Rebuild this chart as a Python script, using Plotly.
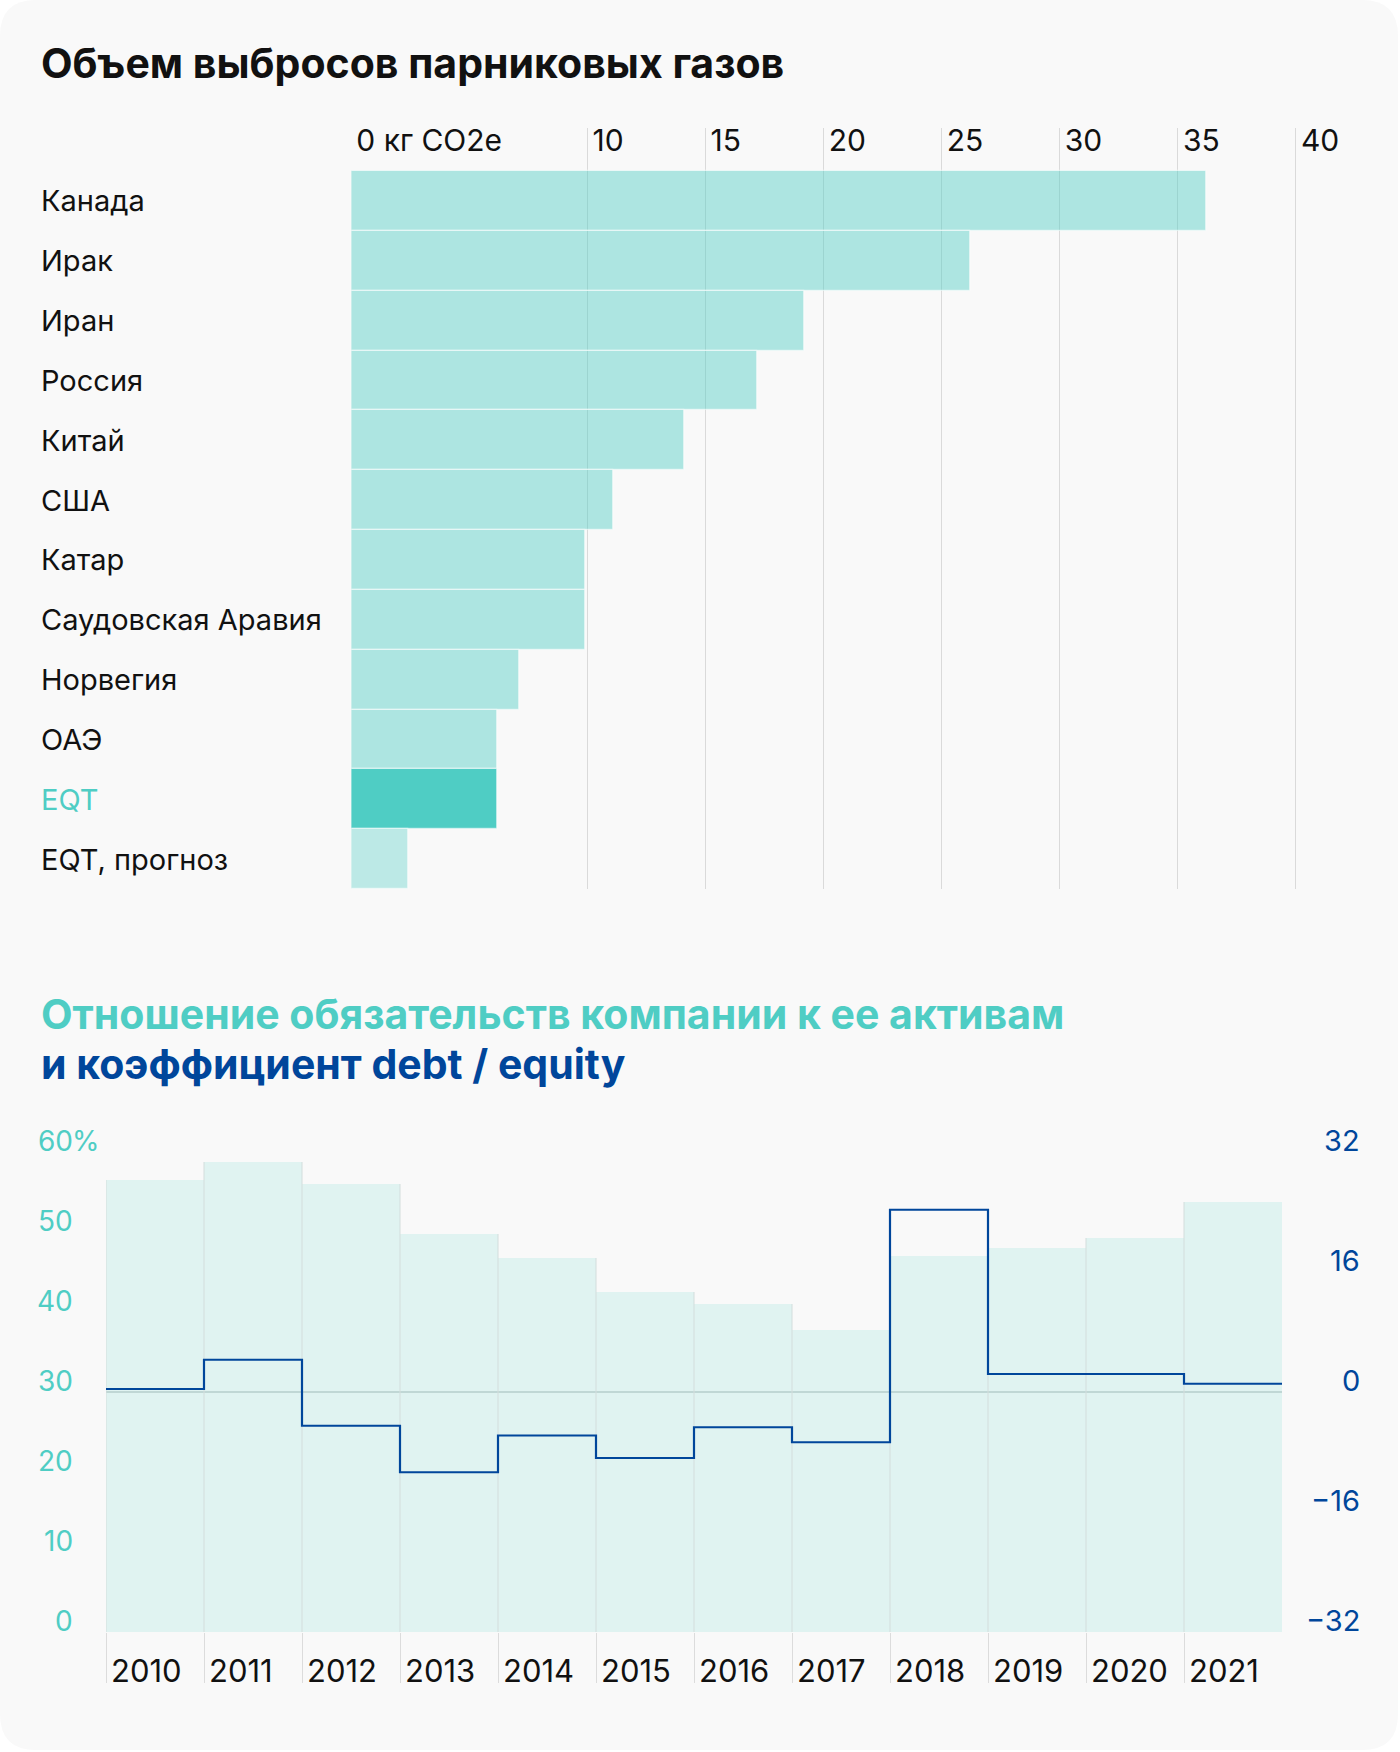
import plotly.graph_objects as go

# ---------------- data ----------------
countries = ["Канада", "Ирак", "Иран", "Россия", "Китай", "США", "Катар",
             "Саудовская Аравия", "Норвегия", "ОАЭ", "EQT", "EQT, прогноз"]
emissions = [36.2, 26.2, 19.2, 17.2, 14.1, 11.1, 9.9, 9.9, 7.1, 6.2, 6.2, 2.4]
emis_tickvals = [0, 10, 15, 20, 25, 30, 35, 40]
emis_ticktext = ["0 кг CO2e", "10", "15", "20", "25", "30", "35", "40"]

years = [2010, 2011, 2012, 2013, 2014, 2015, 2016, 2017, 2018, 2019, 2020, 2021]
liab_to_assets = [56.5, 58.75, 56.0, 49.75, 46.75, 42.5, 41.0, 37.75, 47.0, 48.0, 49.25, 53.75]
debt_equity = [0.4, 4.3, -4.5, -10.7, -5.8, -8.8, -4.7, -6.7, 24.3, 2.4, 2.4, 1.1]
left_ticks = [0, 10, 20, 30, 40, 50, 60]
right_ticks = [-32, -16, 0, 16, 32]
right_ticktext = ["−32", "−16", "0", "16", "32"]

# ---------------- style ----------------
W, H = 1400, 1752
BG = "#f9f9f9"
TEAL = "#4fcdc4"
NAVY = "#00469b"
FONT = "Inter"

def px_x(p):
    return p / W

def px_y(p):
    return 1 - p / H

fig = go.Figure()

# top chart bars
bar_colors = ["rgba(79,205,196,0.45)"] * len(countries)
bar_colors[countries.index("EQT")] = "rgba(79,205,196,1)"
bar_colors[countries.index("EQT, прогноз")] = "rgba(79,205,196,0.36)"
fig.add_trace(go.Bar(
    x=emissions, y=countries, orientation="h",
    marker=dict(color=bar_colors, line=dict(color="rgba(255,255,255,0.55)", width=1.2)),
    width=1.0, xaxis="x", yaxis="y", showlegend=False, hoverinfo="skip",
))

# bottom chart bars
fig.add_trace(go.Bar(
    x=years, y=liab_to_assets, width=1.0,
    marker=dict(color="rgba(79,205,196,0.15)", line=dict(width=0)),
    xaxis="x2", yaxis="y3", showlegend=False, hoverinfo="skip",
))

# vertical separators between bottom bars (up to taller neighbour)
sep_x, sep_y = [], []
for i, yr in enumerate(years):
    top = liab_to_assets[i] if i == 0 else max(liab_to_assets[i - 1], liab_to_assets[i])
    sep_x += [yr - 0.5, yr - 0.5, None]
    sep_y += [0, top, None]
fig.add_trace(go.Scatter(
    x=sep_x, y=sep_y, mode="lines", line=dict(color="#d3dddc", width=1),
    xaxis="x2", yaxis="y3", showlegend=False, hoverinfo="skip",
))

# debt/equity step line spanning full bar widths
step_x = [yr - 0.5 for yr in years] + [years[-1] + 0.5]
step_y = debt_equity + [debt_equity[-1]]
fig.add_trace(go.Scatter(
    x=step_x, y=step_y, mode="lines", line=dict(color=NAVY, width=2.2, shape="hv"),
    xaxis="x2", yaxis="y4", showlegend=False, hoverinfo="skip",
))

annotations = []
# titles
title_font = dict(family=FONT, size=41)
annotations.append(dict(text="<b>Объем выбросов парниковых газов</b>", x=px_x(39), y=px_y(63),
                        xref="paper", yref="paper", xanchor="left", yanchor="middle", showarrow=False,
                        font=dict(title_font, color="#111111")))
annotations.append(dict(text="<b>Отношение обязательств компании к ее активам</b>", x=px_x(39), y=px_y(1014),
                        xref="paper", yref="paper", xanchor="left", yanchor="middle", showarrow=False,
                        font=dict(title_font, color=TEAL)))
annotations.append(dict(text="<b>и коэффициент debt / equity</b>", x=px_x(39), y=px_y(1064),
                        xref="paper", yref="paper", xanchor="left", yanchor="middle", showarrow=False,
                        font=dict(title_font, color=NAVY)))

# category labels (left aligned)
for c in countries:
    annotations.append(dict(text=c, x=px_x(39), xref="paper", y=c, yref="y",
                            xanchor="left", yanchor="middle", showarrow=False,
                            font=dict(family=FONT, size=29, color=TEAL if c == "EQT" else "#111111")))

# left axis labels (bottom chart)
for v in left_ticks:
    annotations.append(dict(text=str(v), x=px_x(75), xref="paper", y=v, yref="y3",
                            xanchor="right", yanchor="bottom", yshift=-8, showarrow=False,
                            font=dict(family=FONT, size=28, color=TEAL)))
annotations.append(dict(text="%", x=px_x(75), xref="paper", y=left_ticks[-1], yref="y3",
                        xanchor="left", yanchor="bottom", xshift=-5, yshift=-8, showarrow=False,
                        font=dict(family=FONT, size=28, color=TEAL)))
# right axis labels
for v, t in zip(right_ticks, right_ticktext):
    annotations.append(dict(text=t, x=px_x(1362), xref="paper", y=v, yref="y4",
                            xanchor="right", yanchor="bottom", yshift=-8, showarrow=False,
                            font=dict(family=FONT, size=29, color=NAVY)))
# year labels
for yr in years:
    annotations.append(dict(text=str(yr), x=yr - 0.5, xref="x2", y=px_y(1682), yref="paper",
                            xanchor="left", yanchor="bottom", xshift=3, yshift=-9, showarrow=False,
                            font=dict(family=FONT, size=31, color="#111111")))

# rounded card background
r = 36
x0, x1, y0, y1 = 0, 1398, 0, 1750
def P(x, y):
    return f"{x / W:.6f},{1 - y / H:.6f}"
card = (f"M {P(x0 + r, y0)} L {P(x1 - r, y0)} Q {P(x1, y0)} {P(x1, y0 + r)} "
        f"L {P(x1, y1 - r)} Q {P(x1, y1)} {P(x1 - r, y1)} "
        f"L {P(x0 + r, y1)} Q {P(x0, y1)} {P(x0, y1 - r)} "
        f"L {P(x0, y0 + r)} Q {P(x0, y0)} {P(x0 + r, y0)} Z")

top_x0, top_x1 = 351.3, 1375
ppu = 23.617
fig.update_layout(
    width=W, height=H,
    margin=dict(l=0, r=0, t=0, b=0),
    paper_bgcolor="#ffffff", plot_bgcolor="rgba(0,0,0,0)",
    barmode="overlay", bargap=0,
    font=dict(family=FONT, size=26, color="#111111"),
    shapes=[dict(type="path", path=card, xref="paper", yref="paper",
                 fillcolor=BG, line=dict(width=0), layer="below")],
    annotations=annotations,
    xaxis=dict(domain=[top_x0 / W, top_x1 / W], range=[0, (top_x1 - top_x0) / ppu],
               side="top", anchor="y", tickvals=emis_tickvals, ticktext=emis_ticktext,
               ticks="", ticklabelposition="inside right", ticklabelshift=5,
               ticklabelstandoff=-4,
               showgrid=True, gridcolor="#dadada", gridwidth=1.3,
               zeroline=False, showline=False,
               tickfont=dict(family=FONT, size=30, color="#111111")),
    yaxis=dict(domain=[px_y(889), px_y(128)], anchor="x", type="category",
               categoryorder="array", categoryarray=countries,
               range=[11.5, -1.22], showticklabels=False, showgrid=False,
               zeroline=False, showline=False),
    xaxis2=dict(domain=[106 / W, 1282 / W], anchor="y3", range=[years[0] - 0.5, years[-1] + 0.5],
                tickvals=[yr - 0.5 for yr in years], ticks="outside", ticklen=50,
                tickcolor="#dcdcdc", tickwidth=1, showticklabels=False,
                showgrid=False, zeroline=False, showline=False),
    yaxis3=dict(domain=[px_y(1632), px_y(1152)], anchor="x2", range=[0, 60],
                showticklabels=False, showgrid=False, zeroline=False, showline=False),
    yaxis4=dict(domain=[px_y(1632), px_y(1152)], anchor="x2", overlaying="y3", side="right",
                range=[-32, 32], showticklabels=False, showgrid=False,
                zeroline=True, zerolinecolor="#d4d9d9", zerolinewidth=2, showline=False),
)

fig.write_html("out.html", config={"displayModeBar": False},
               post_script="document.body.style.margin='0';document.body.style.overflow='hidden';")
